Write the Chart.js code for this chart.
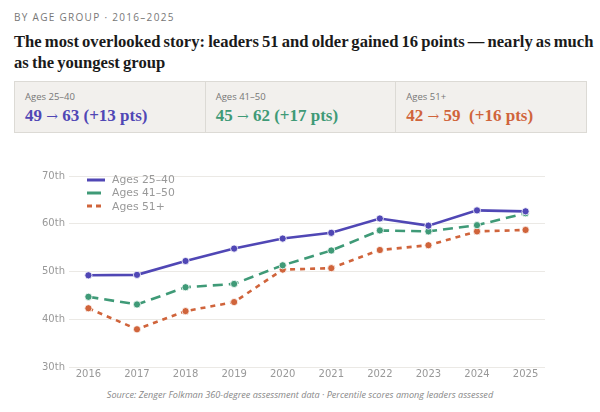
<!DOCTYPE html>
<html lang="en">
<head>
  <meta charset="UTF-8">
  <title>By age group</title>
  <style>
    body { margin: 0; width: 600px; height: 412px; background: #fff; position: relative; overflow: hidden; font-family: "Open Sans", sans-serif; }
    .kicker { position: absolute; left: 14px; top: 10px; font-size: 10px; letter-spacing: 1.3px; color: #777; }
    h1 { position: absolute; left: 14px; top: 31px; width: 585px; margin: 0; font-family: "Liberation Serif", serif; font-weight: bold; font-size: 16.6px; word-spacing: -1px; line-height: 21px; color: #1a1a1a; }
    .cards { position: absolute; left: 14px; top: 81px; width: 573px; height: 52px; background: #f2f0ed; border: 1px solid #dcdad5; box-sizing: border-box; display: flex; }
    .card { flex: 1; padding: 8px 0 0 10px; border-left: 1px solid #dcdad5; }
    .card:first-child { border-left: none; }
    .card .lab { font-size: 9.5px; color: #777; line-height: 14px; }
    .card .val { font-family: "Liberation Serif", serif; font-weight: bold; font-size: 17px; line-height: 24px; }
    .card .val .ar { font-family: "DejaVu Serif", serif; font-weight: normal; font-size: 14px; }
    .wrap { position: absolute; left: 0; top: 160px; width: 600px; height: 221px; }
    .legend { position: absolute; left: 87px; top: 173px; font-family: "DejaVu Sans", sans-serif; font-size: 10.8px; color: #999; }
    .legend div { height: 13.3px; line-height: 13.3px; display: flex; align-items: center; }
    .legend svg { margin-right: 5px; }
    .source { position: absolute; left: 0; width: 600px; top: 388px; text-align: center; font-size: 9.1px; font-style: italic; color: #888; }
  </style>
</head>
<body>
  <div class="kicker">BY AGE GROUP · 2016–2025</div>
  <h1>The most overlooked story: leaders 51 and older gained 16 points — nearly as much as the youngest group</h1>
  <div class="cards" id="cards"></div>
  <div class="wrap"><canvas id="lineChart"></canvas></div>
  <div class="legend" id="legend"></div>
  <div class="source">Source: Zenger Folkman 360-degree assessment data · Percentile scores among leaders assessed</div>

  <script src="https://cdn.jsdelivr.net/npm/chart.js"></script>
  <script>
    const years = [2016, 2017, 2018, 2019, 2020, 2021, 2022, 2023, 2024, 2025];
    const groups = ['Ages 25–40', 'Ages 41–50', 'Ages 51+'];
    const young = [49.2, 49.3, 52.2, 54.8, 56.9, 58.1, 61.1, 59.6, 62.8, 62.6];
    const middle = [44.7, 43.1, 46.7, 47.4, 51.3, 54.4, 58.6, 58.4, 59.7, 62.2];
    const older = [42.3, 37.9, 41.7, 43.6, 50.4, 50.7, 54.5, 55.5, 58.4, 58.7];
    const yTicks = [30, 40, 50, 60, 70];
    const fromTo = [[49, 63], [45, 62], [42, 59]];
    const gains = ['+13 pts', '+17 pts', '+16 pts'];

    const colors = ['#5047b5', '#3f9a77', '#d0643b'];
    const dashes = [[], [10, 6], [5, 5]];
    const series = [young, middle, older];

    // summary cards
    const cards = document.getElementById('cards');
    groups.forEach((g, i) => {
      const gap = i === 2 ? ' &nbsp;' : ' ';
      cards.innerHTML += '<div class="card"><div class="lab">' + g + '</div>' +
        '<div class="val" style="color:' + colors[i] + '">' + fromTo[i][0] + ' <span class="ar">→</span> ' +
        fromTo[i][1] + gap + '(' + gains[i] + ')</div></div>';
    });

    // legend
    const legend = document.getElementById('legend');
    groups.forEach((g, i) => {
      legend.innerHTML += '<div><svg width="20" height="6"><line x1="0" y1="3" x2="18" y2="3" stroke="' + colors[i] +
        '" stroke-width="3" stroke-dasharray="' + (dashes[i].length ? (i === 1 ? '14,6' : '5,4') : 'none') + '"/></svg>' + g + '</div>';
    });

    new Chart(document.getElementById('lineChart'), {
      type: 'line',
      data: {
        datasets: series.map((s, i) => ({
          label: groups[i],
          data: s.map((v, j) => ({ x: years[j], y: v })),
          borderColor: colors[i],
          backgroundColor: colors[i],
          borderWidth: 2.6,
          borderDash: dashes[i],
          pointRadius: 3.6,
          pointBorderColor: '#fff',
          pointBorderWidth: 0.8,
          tension: 0
        }))
      },
      options: {
        responsive: true,
        maintainAspectRatio: false,
        animation: false,
        layout: { padding: { top: 16, right: 55, left: 38, bottom: 0 } },
        plugins: { legend: { display: false }, tooltip: { enabled: false } },
        scales: {
          x: {
            type: 'linear',
            min: 2015.6,
            max: 2025.4,
            afterBuildTicks: axis => { axis.ticks = years.map(v => ({ value: v })); },
            grid: { display: false, drawTicks: false },
            border: { display: false },
            ticks: { color: '#999', font: { family: 'DejaVu Sans', size: 10 }, padding: 1, callback: v => String(v) }
          },
          y: {
            min: 30,
            max: 70,
            afterBuildTicks: axis => { axis.ticks = yTicks.map(v => ({ value: v })); },
            grid: { color: '#ebe9e5', lineWidth: 1, drawTicks: false },
            border: { display: false },
            ticks: { color: '#999', font: { family: 'DejaVu Sans', size: 10 }, padding: 4, callback: v => v + 'th' }
          }
        }
      }
    });
  </script>
</body>
</html>
